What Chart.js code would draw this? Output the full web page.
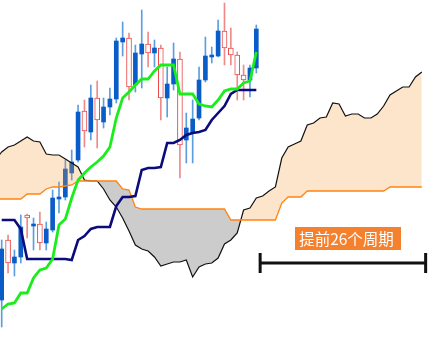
<!DOCTYPE html>
<html>
<head>
<meta charset="utf-8">
<script src="https://cdn.jsdelivr.net/npm/chart.js@4.4.1/dist/chart.umd.min.js"></script>
<style>
  html, body { margin: 0; padding: 0; background: #fff; }
  #wrap { width: 442px; height: 339px; }
</style>
</head>
<body>
<div id="wrap"><canvas id="chart" width="442" height="339"></canvas></div>
<script>
// candles, one per period (index 0..40)
const opens  = [39, 99, 76, 82, 124, 113, 115, 96, 109, 140, 142, 166, 179, 228, 207, 241, 217, 232, 240, 297, 301, 254, 285, 295, 286, 291, 241, 255, 280, 199, 206, 221, 259, 282, 283, 308, 291, 284, 264, 259, 271]
const closes = [90, 76, 82, 112, 121, 115, 96, 110, 141, 142, 170, 177, 227, 208, 241, 219, 232, 240, 298, 301, 252, 286, 295, 286, 291, 241, 255, 280, 194, 211, 220, 259, 283, 284, 308, 291, 284, 264, 259, 271, 310]
const highs  = [99, 104, 89, 124, 125, 121, 127, 117, 149, 157, 179, 189, 234, 239, 254, 258, 241, 251, 301, 317, 306, 294, 329, 307, 299, 294, 272, 296, 287, 226, 239, 272, 302, 292, 319, 336, 311, 287, 274, 274, 314]
const lows   = [12, 66, 63, 76, 101, 89, 89, 89, 107, 126, 139, 159, 177, 192, 199, 191, 211, 224, 236, 283, 239, 247, 251, 272, 272, 219, 222, 249, 161, 176, 176, 219, 257, 276, 282, 274, 274, 239, 239, 242, 266]

// conversion line (green) and base line (navy)
const tenkan = [30, 35, 36, 46, 46, 61, 69, 71, 80, 114, 120, 141, 159, 166, 172, 177, 183, 192, 221, 241, 247, 254, 260, 260, 268, 274, 274, 274, 245, 245, 245, 235, 233, 232, 239, 248, 250, 250, 256, 258, 287]
const kijun  = [119, 119, 119, 110, 80, 80, 80, 80, 80, 80, 80, 79, 99, 103, 110, 112, 112, 112, 133, 142, 142, 143, 169, 171, 171, 172, 196, 196, 199, 204, 206, 207, 209, 219, 226, 233, 245, 249, 249, 249, 249]

// leading spans, index -1..66 (26 periods ahead of the last candle)
const spanStart = -1
const spanA = [140, 140, 140, 140, 140, 145, 145, 145, 150, 152, 152, 153, 154, 158, 158, 158, 158, 158, 158, 158, 150, 149, 132, 130, 130, 130, 130, 130, 130, 130, 130, 130, 130, 130, 130, 130, 130, 119, 119, 119, 119, 119, 119, 119, 119, 136, 142, 142, 142, 148, 148, 148, 148, 148, 148, 148, 148, 148, 148, 148, 148, 148, 152, 152, 152, 152, 152, 152]
const spanB = [179, 187, 192, 194, 198, 202, 198, 197, 185, 184, 184, 180, 176, 172, 159, 158, 158, 150, 139, 132, 121, 108, 94, 90, 88, 82, 73, 75, 77, 77, 79, 62, 72, 75, 76, 81, 95, 99, 106, 129, 131, 141, 143, 148, 152, 181, 192, 195, 198, 214, 216, 221, 222, 236, 235, 223, 225, 225, 221, 221, 225, 233, 244, 248, 252, 252, 262, 267]

const leadLabel = '提前26个周期'

const pts = (arr, start = 0) => arr.map((v, i) => ({ x: i + start, y: v }))
const isUp = (i) => closes[i] >= opens[i]
const wickData = (up) => opens.map((o, i) => isUp(i) === up ? { x: i, y: [lows[i], highs[i]] } : null).filter(Boolean)
const bodyData = (up) => opens.map((o, i) => isUp(i) === up ? { x: i, y: [o, closes[i]] } : null).filter(Boolean)

const leadPlugin = {
  id: 'lead',
  afterDraw(chart) {
    const { ctx, scales: { x, y } } = chart
    const x0 = x.getPixelForValue(40.6)
    const x1 = x.getPixelForValue(66.6)
    const yy = y.getPixelForValue(76)
    ctx.save()
    ctx.strokeStyle = '#111'
    ctx.lineWidth = 3
    ctx.beginPath()
    ctx.moveTo(x0, yy); ctx.lineTo(x1, yy)
    ctx.moveTo(x0, yy - 10); ctx.lineTo(x0, yy + 10)
    ctx.moveTo(x1, yy - 10); ctx.lineTo(x1, yy + 10)
    ctx.stroke()

    // orange tag with the label
    ctx.font = '15.5px "Noto Sans CJK SC"'
    const w = ctx.measureText(leadLabel).width
    const left = x.getPixelForValue(46.1)
    const cy = y.getPixelForValue(100.5)
    ctx.fillStyle = '#f5812e'
    ctx.fillRect(Math.round(left), Math.round(cy - 11.5), Math.round(w + 11), 23)
    ctx.fillStyle = '#fff'
    ctx.textAlign = 'left'
    ctx.textBaseline = 'middle'
    ctx.fillText(leadLabel, left + 4, cy + 1)
    ctx.restore()
  }
}

new Chart(document.getElementById('chart'), {
  type: 'bar',
  data: {
    datasets: [
      { data: wickData(true), backgroundColor: '#5b9ee0', barThickness: 1, grouped: false, order: 8 },
      { data: wickData(false), backgroundColor: '#f08a8a', barThickness: 1, grouped: false, order: 8 },
      { data: bodyData(true), backgroundColor: '#0a5cc8', barThickness: 4, grouped: false, order: 7 },
      { data: bodyData(false), backgroundColor: '#fff', borderColor: '#ec4a4a', borderWidth: 1, borderSkipped: false, barThickness: 5, grouped: false, order: 7 },
      { type: 'line', data: pts(spanA, spanStart), borderColor: '#ff8410', borderWidth: 1.3, pointRadius: 0, tension: 0, fill: false, order: 3 },
      { type: 'line', data: pts(spanB, spanStart), borderColor: '#111', borderWidth: 1.2, pointRadius: 0, tension: 0,
        fill: { target: 4, above: 'rgba(247,151,51,0.25)', below: 'rgba(51,51,51,0.25)' }, order: 4 },
      { type: 'line', data: pts(kijun), borderColor: '#0b0b7a', borderWidth: 2.6, pointRadius: 0, tension: 0, fill: false, order: 2 },
      { type: 'line', data: pts(tenkan), borderColor: '#1aee1a', borderWidth: 2.8, pointRadius: 0, tension: 0, fill: false, order: 1 }
    ]
  },
  options: {
    responsive: false,
    devicePixelRatio: 1,
    animation: false,
    layout: { padding: 0 },
    plugins: { legend: { display: false }, tooltip: { enabled: false } },
    scales: {
      x: { type: 'linear', min: -0.267, max: 69.17, offset: false, display: false },
      y: { type: 'linear', min: 0, max: 339, display: false }
    }
  },
  plugins: [leadPlugin]
})
</script>
</body>
</html>
